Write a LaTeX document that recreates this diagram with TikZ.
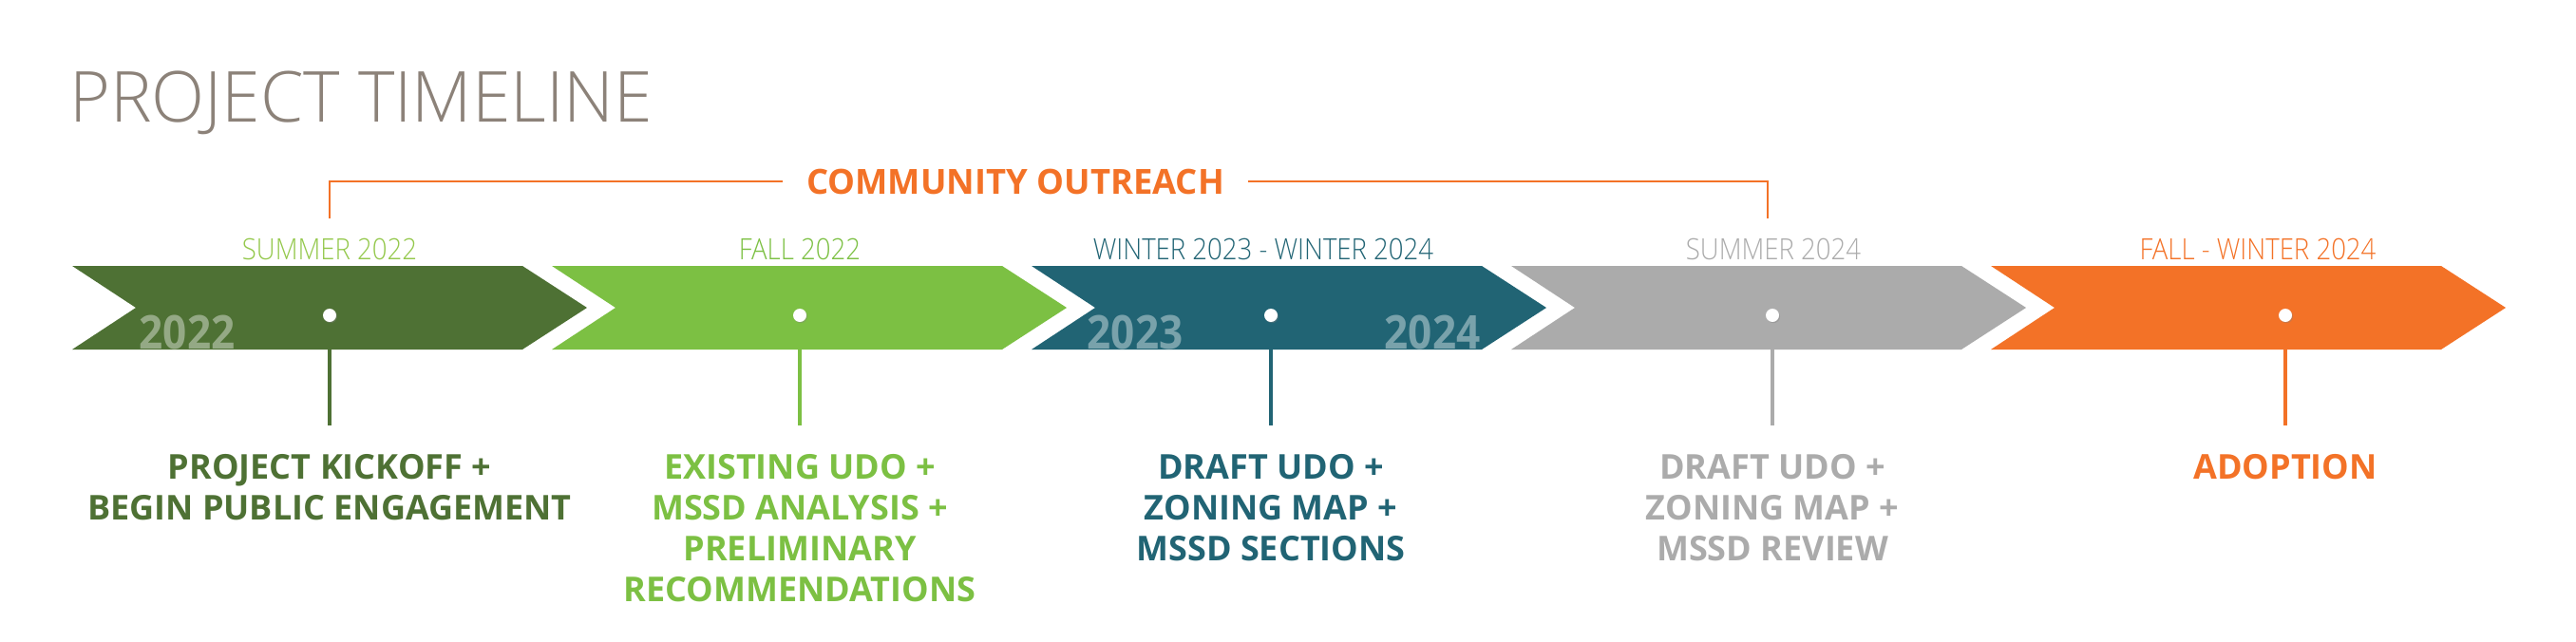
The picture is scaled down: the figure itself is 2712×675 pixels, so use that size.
\documentclass[tikz,border=0pt]{standalone}
\usepackage{fontspec}
\setmainfont{Open Sans}
\newfontfamily\narrowfont[FakeStretch=0.895]{Open Sans Light}
\newfontfamily\headfont[FakeStretch=0.99]{Open Sans Light}
\newfontfamily\yearfont[FakeStretch=0.9]{Open Sans}
\usepackage{tikz}
\usetikzlibrary{positioning,shadows}

\definecolor{ksGreen}{RGB}{78,113,52}
\definecolor{ksLime}{RGB}{124,192,67}
\definecolor{ksLimeLt}{RGB}{148,200,76}
\definecolor{ksTeal}{RGB}{33,100,116}
\definecolor{ksGray}{RGB}{171,171,171}
\definecolor{ksOrange}{RGB}{243,114,39}
\definecolor{ksTitle}{RGB}{140,130,121}

\begin{document}
\begin{tikzpicture}[
  x=0.5pt, y=-0.5pt,
  title/.style ={font=\headfont\fontsize{37}{40}\selectfont, text=ksTitle, anchor=base west, inner sep=0pt},
  when/.style  ={font=\narrowfont\fontsize{15.4}{18}\selectfont, anchor=base, inner sep=0pt},
  year/.style  ={font=\yearfont\bfseries\fontsize{24.5}{26}\selectfont, text=white, text opacity=0.4, anchor=base, inner sep=0pt},
  task/.style  ={font=\bfseries\fontsize{18}{21.5}\selectfont, align=center, anchor=north, inner sep=0pt},
  pin/.style   ={circle, fill=white, inner sep=0pt, minimum size=7pt,
                 drop shadow={shadow xshift=0.5pt, shadow yshift=-0.6pt, opacity=0.35}},
  stem/.style  ={line width=2pt},
  bracket/.style={draw=ksOrange, line width=1.4pt},
]
\useasboundingbox (0,0) rectangle (2712,675);
% title
\node[title] (ttl) at (73,128) {PROJECT TIMELINE};
% chevrons
\fill[ksGreen]  (76,280)   -- (550,280)  -- (618,324)  -- (550,368)  -- (76,368)   -- (143,324)  -- cycle;
\fill[ksLime]   (581,280)  -- (1055,280) -- (1123,324) -- (1055,368) -- (581,368)  -- (648,324)  -- cycle;
\fill[ksTeal]   (1086,280) -- (1560,280) -- (1628,324) -- (1560,368) -- (1086,368) -- (1153,324) -- cycle;
\fill[ksGray]   (1591,280) -- (2065,280) -- (2133,324) -- (2065,368) -- (1591,368) -- (1658,324) -- cycle;
\fill[ksOrange] (2096,280) -- (2570,280) -- (2638,324) -- (2570,368) -- (2096,368) -- (2163,324) -- cycle;
% faded years
\node[year] (yr22) at (197,367)  {2022};
\node[year] (yr23) at (1195,367) {2023};
\node[year] (yr24) at (1508,367) {2024};
% periods
\node[when, text=ksLimeLt] (when1) at (347,273)  {SUMMER 2022};
\node[when, text=ksLime]   (when2) at (842,273)  {FALL 2022};
\node[when, text=ksTeal]   (when3) at (1330,273) {WINTER 2023 - WINTER 2024};
\node[when, text=ksGray]   (when4) at (1867,273) {SUMMER 2024};
\node[when, text=ksOrange] (when5) at (2377,273) {FALL - WINTER 2024};
% pins and stems
\coordinate (foot1) at (347,448);
\coordinate (foot2) at (842,448);
\coordinate (foot3) at (1338,448);
\coordinate (foot4) at (1866,448);
\coordinate (foot5) at (2406,448);
\draw[stem, ksGreen]  (347,332)  -- (foot1);
\draw[stem, ksLime]   (842,332)  -- (foot2);
\draw[stem, ksTeal]   (1338,332) -- (foot3);
\draw[stem, ksGray]   (1866,332) -- (foot4);
\draw[stem, ksOrange] (2406,332) -- (foot5);
\node[pin] (pin1) at (347,332)  {};
\node[pin] (pin2) at (842,332)  {};
\node[pin] (pin3) at (1338,332) {};
\node[pin] (pin4) at (1866,332) {};
\node[pin] (pin5) at (2406,332) {};
% milestones
\node[task, text=ksGreen,  below=15pt of foot1] (task1) {PROJECT KICKOFF +\\BEGIN PUBLIC ENGAGEMENT};
\node[task, text=ksLime,   below=15pt of foot2] (task2) {EXISTING UDO +\\MSSD ANALYSIS +\\PRELIMINARY\\RECOMMENDATIONS};
\node[task, text=ksTeal,   below=15pt of foot3] (task3) {DRAFT UDO +\\ZONING MAP +\\MSSD SECTIONS};
\node[task, text=ksGray,   below=15pt of foot4] (task4) {DRAFT UDO +\\ZONING MAP +\\MSSD REVIEW};
\node[task, text=ksOrange, below=15pt of foot5] (task5) {ADOPTION};
% outreach bracket
\node[font=\bfseries\fontsize{18.2}{20}\selectfont, text=ksOrange, inner sep=0pt, anchor=base] (reach) at (1069,204) {COMMUNITY OUTREACH};
\coordinate (reachL) at (347,230);
\coordinate (reachR) at (1861,230);
\draw[bracket] ([xshift=-12.5pt]reach.west) -| (reachL);
\draw[bracket] ([xshift=12.5pt]reach.east) -| (reachR);
\end{tikzpicture}
\end{document}
